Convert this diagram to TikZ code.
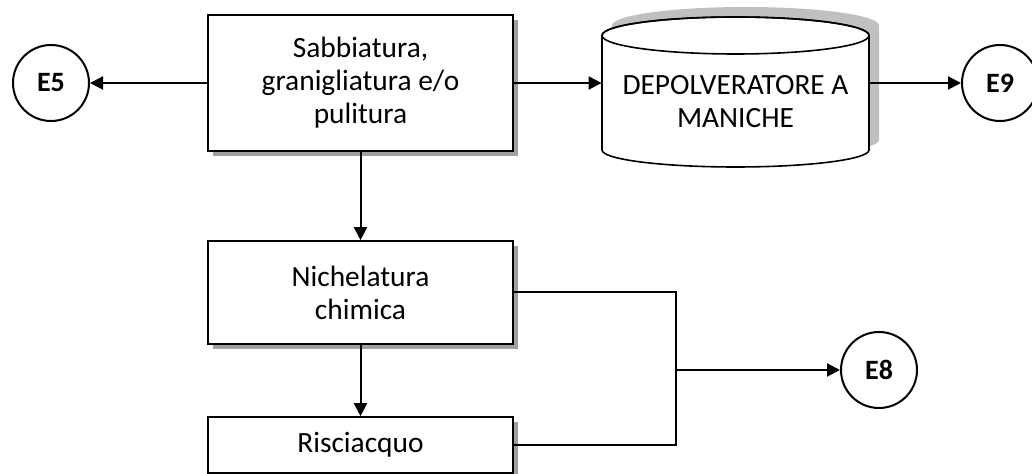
\documentclass[tikz,border=0pt]{standalone}
\usepackage{fontspec}
\setmainfont{Carlito}
\usetikzlibrary{arrows.meta,shadows}
\definecolor{boxshade}{HTML}{A0A0A0}
\definecolor{cylshade}{HTML}{C0C0C0}

\begin{document}
\begin{tikzpicture}[x=0.5pt, y=-0.5pt,
  procbox/.style={draw=black, line width=0.8pt, fill=white, minimum width=152.5pt, inner sep=1pt, align=center,
    font=\fontsize{14.7}{16.5}\selectfont,
    drop shadow={shadow xshift=2.5pt, shadow yshift=-2.5pt, fill=boxshade, opacity=1}},
  emission/.style={draw=black, line width=1pt, fill=white, circle, minimum size=38pt, inner sep=0pt,
    font=\bfseries\fontsize{14}{16}\selectfont},
  flow/.style={line width=1pt, -{Triangle[length=6.5pt,width=6.5pt]}},
  wire/.style={line width=1pt}]
  \useasboundingbox (0,0) rectangle (1032,474);

  % process boxes
  \node[procbox, minimum height=68pt] (sabb) at (360.5,83) {Sabbiatura,\\granigliatura e/o\\pulitura};
  \node[procbox, minimum height=51.5pt] (nich) at (360.5,292.5) {Nichelatura\\chimica};
  \node[procbox, minimum height=28pt] (risc) at (360.5,445) {Risciacquo};

  % dust collector (cylinder)
  \fill[cylshade, xshift=5pt, yshift=5pt] (602,35.5) -- (602,150)
    arc[start angle=180, end angle=360, x radius=66.75pt, y radius=8.5pt] -- (869,35.5)
    arc[start angle=0, end angle=180, x radius=66.75pt, y radius=9.25pt] -- cycle;
  \draw[line width=0.8pt, fill=white] (602,35.5) -- (602,150)
    arc[start angle=180, end angle=360, x radius=66.75pt, y radius=8.5pt] -- (869,35.5)
    arc[start angle=0, end angle=180, x radius=66.75pt, y radius=9.25pt] -- cycle;
  \draw[line width=0.8pt] (735.5,35.5) ellipse[x radius=66.75pt, y radius=9.25pt];
  \node[minimum width=133.5pt, inner sep=1pt, align=center, font=\fontsize{14.7}{16.5}\selectfont] (dep) at (735.5,102) {DEPOLVERATORE A\\MANICHE};

  % emission points
  \node[emission] (e5) at (51,83) {E5};
  \node[emission] (e9) at (1000,83) {E9};
  \node[emission] (e8) at (879,370) {E8};
  \coordinate (bus) at (676,370);

  % connectors
  \draw[flow] (sabb) -- (e5);
  \draw[flow] (sabb.east) -- (sabb.east -| dep.west);
  \draw[flow] (sabb.east -| dep.east) -- (e9);
  \draw[flow] (sabb) -- (nich);
  \draw[flow] (nich) -- (risc);
  \draw[wire] (nich.east) -| (bus) |- (risc.east);
  \draw[flow] (bus) -- (e8);
\end{tikzpicture}
\end{document}
